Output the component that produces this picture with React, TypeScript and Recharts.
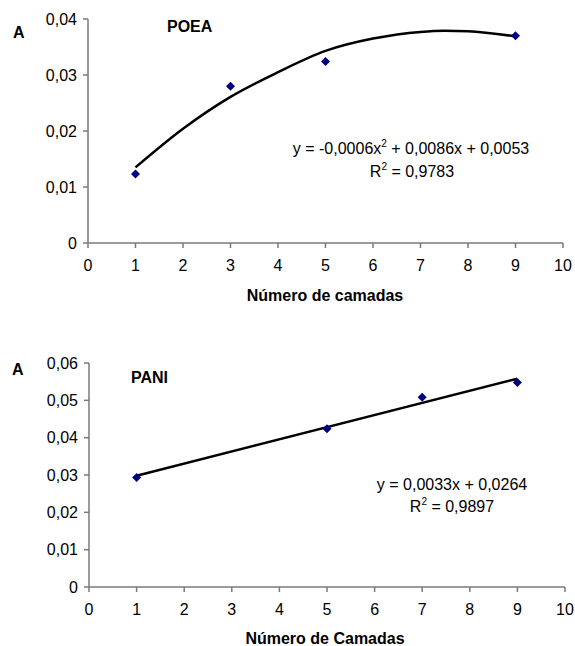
import React from 'react';
import { ComposedChart, Line, Scatter, XAxis, YAxis } from 'recharts';

// POEA panel
const poeaLayers = [1, 3, 5, 9];
const poeaAbs = [0.0123, 0.028, 0.0324, 0.037];
const poeaTrendX = [1, 2, 3, 4, 5, 6, 7, 7.5, 8, 9];
const poeaTrendY = [0.0135, 0.0204, 0.0261, 0.0305, 0.0343, 0.0365, 0.0377, 0.0379, 0.0378, 0.0369];
const poeaYTicks = [0, 0.01, 0.02, 0.03, 0.04];

// PANI panel
const paniLayers = [1, 5, 7, 9];
const paniAbs = [0.0293, 0.0424, 0.0508, 0.0548];
const paniTrendX = [1, 9];
const paniTrendY = [0.0298, 0.0558];
const paniYTicks = [0, 0.01, 0.02, 0.03, 0.04, 0.05, 0.06];

const xTicks = [0, 1, 2, 3, 4, 5, 6, 7, 8, 9, 10];

const toPts = (xs: number[], ys: number[]) => xs.map((x, i) => ({ x, y: ys[i] }));

const FONT = '"Liberation Sans", Arial, sans-serif';
const AXIS = '#7a7a7a';

const fmt = (v: number) => (v === 0 ? '0' : v.toFixed(2).replace('.', ','));

const Diamond = (props: any) => {
  const { cx, cy } = props;
  const r = 4.5;
  return (
    <polygon
      points={`${cx},${cy - r} ${cx + r},${cy} ${cx},${cy + r} ${cx - r},${cy}`}
      fill="#000080"
    />
  );
};

const tickStyle = { fontSize: 16, fontFamily: FONT, fill: '#000' };

function Panel(props: {
  pts: { x: number; y: number }[];
  trend: { x: number; y: number }[];
  yTicks: number[];
  yMax: number;
  height: number;
  margin: { top: number; right: number; left: number; bottom: number };
  xAxisHeight: number;
  curve: 'monotone' | 'linear';
}) {
  return (
    <ComposedChart width={575} height={props.height} margin={props.margin}>
      <XAxis
        type="number"
        dataKey="x"
        domain={[0, 10]}
        ticks={xTicks}
        interval={0}
        height={props.xAxisHeight}
        stroke={AXIS}
        tickSize={5}
        tickMargin={12}
        tick={tickStyle}
        axisLine={{ stroke: AXIS, strokeWidth: 1.5 }}
        tickLine={{ stroke: AXIS, strokeWidth: 1.5 }}
      />
      <YAxis
        type="number"
        dataKey="y"
        domain={[0, props.yMax]}
        ticks={props.yTicks}
        interval={0}
        width={60}
        stroke={AXIS}
        tickSize={5}
        tickMargin={6}
        tick={tickStyle}
        tickFormatter={fmt}
        axisLine={{ stroke: AXIS, strokeWidth: 1.5 }}
        tickLine={{ stroke: AXIS, strokeWidth: 1.5 }}
      />
      <Line
        data={props.trend}
        dataKey="y"
        type={props.curve}
        stroke="#000"
        strokeWidth={2.5}
        dot={false}
        isAnimationActive={false}
      />
      <Scatter data={props.pts} dataKey="y" shape={Diamond} isAnimationActive={false} />
    </ComposedChart>
  );
}

export default function App() {
  const t = { fontFamily: FONT, fontSize: 16, fill: '#000' } as const;
  return (
    <div style={{ position: 'absolute', left: 0, top: 0, width: 575, height: 646, background: '#fff' }}>
      <div style={{ position: 'absolute', left: 0, top: 0 }}>
        <Panel
          pts={toPts(poeaLayers, poeaAbs)}
          trend={toPts(poeaTrendX, poeaTrendY)}
          yTicks={poeaYTicks}
          yMax={0.04}
          height={320}
          margin={{ top: 19, right: 12, left: 28, bottom: 0 }}
          xAxisHeight={77}
          curve="monotone"
        />
      </div>
      <div style={{ position: 'absolute', left: 0, top: 320 }}>
        <Panel
          pts={toPts(paniLayers, paniAbs)}
          trend={toPts(paniTrendX, paniTrendY)}
          yTicks={paniYTicks}
          yMax={0.06}
          height={326}
          margin={{ top: 43, right: 10, left: 29, bottom: 0 }}
          xAxisHeight={59}
          curve="linear"
        />
      </div>
      <svg
        width={575}
        height={646}
        style={{ position: 'absolute', left: 0, top: 0, pointerEvents: 'none' }}
      >
        <text x={13} y={38} {...t} fontWeight="bold">A</text>
        <text x={167} y={32} {...t} fontWeight="bold">POEA</text>
        <text x={411} y={154} {...t} textAnchor="middle">
          y = -0,0006x<tspan fontSize={10} dy={-7}>2</tspan>
          <tspan dy={7}> + 0,0086x + 0,0053</tspan>
        </text>
        <text x={412} y={177} {...t} textAnchor="middle">
          R<tspan fontSize={10} dy={-7}>2</tspan>
          <tspan dy={7}> = 0,9783</tspan>
        </text>
        <text x={325} y={301} {...t} fontWeight="bold" textAnchor="middle">Número de camadas</text>

        <text x={12} y={375} {...t} fontWeight="bold">A</text>
        <text x={131} y={383} {...t} fontWeight="bold">PANI</text>
        <text x={452} y={490} {...t} textAnchor="middle">y = 0,0033x + 0,0264</text>
        <text x={452} y={512} {...t} textAnchor="middle">
          R<tspan fontSize={10} dy={-7}>2</tspan>
          <tspan dy={7}> = 0,9897</tspan>
        </text>
        <text x={325} y={644} {...t} fontWeight="bold" textAnchor="middle">Número de Camadas</text>
      </svg>
    </div>
  );
}
